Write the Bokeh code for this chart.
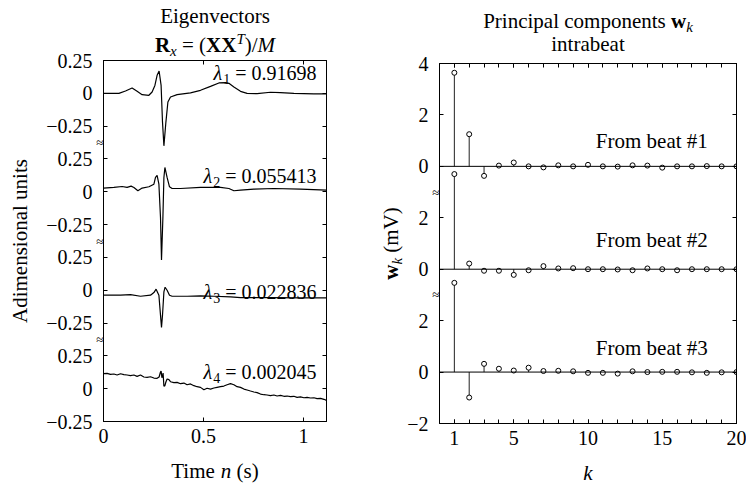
import math
import numpy as np
from bokeh.plotting import figure
from bokeh.models import FixedTicker, LinearAxis, Label, Span, Range1d
from bokeh.layouts import row, column
from bokeh.embed import file_html
from bokeh.resources import INLINE

FONT = "Liberation Serif"
NB = "\u00a0"

# ---------------- data: eigenvectors (time in s, adimensional amplitude) ----------------
t_eig1 = [0, 0.077, 0.11, 0.143, 0.168, 0.193, 0.227, 0.243, 0.257, 0.268, 0.278, 0.288, 0.295,
          0.302, 0.312, 0.322, 0.335, 0.368, 0.435, 0.485, 0.535, 0.577, 0.61, 0.627, 0.652,
          0.685, 0.718, 0.768, 0.835, 0.885, 0.952, 1.052, 1.115]
v_eig1 = [0, 0, 0.018, 0.04, 0.015, -0.01, -0.015, 0.01, 0.06, 0.137, 0.17, 0.06, -0.219,
          -0.40, -0.219, -0.066, -0.028, -0.01, 0.003, 0.023, 0.053, 0.079, 0.081, 0.076, 0.048,
          0.015, 0, -0.003, 0.008, 0.005, 0, -0.005, -0.005]
t_eig2 = [0, 0.052, 0.093, 0.118, 0.138, 0.152, 0.172, 0.193, 0.227, 0.252, 0.26, 0.268, 0.277,
          0.285, 0.29, 0.297, 0.302, 0.307, 0.318, 0.33, 0.343, 0.385, 0.485, 0.585, 0.627,
          0.652, 0.685, 0.752, 0.852, 0.985, 1.115]
v_eig2 = [0.028, 0.033, 0.04, 0.033, 0.043, 0.033, 0.008, 0.028, 0.038, 0.058, 0.11, 0.124, 0.058,
          -0.196, -0.52, -0.196, 0.109, 0.185, 0.109, 0.038, 0.025, 0.025, 0.033, 0.033, 0.025,
          0.008, 0.013, 0.02, 0.025, 0.02, 0.013]
t_eig3 = [0, 0.085, 0.135, 0.185, 0.235, 0.252, 0.263, 0.277, 0.285, 0.29, 0.295, 0.302, 0.308,
          0.318, 0.33, 0.343, 0.418, 0.485, 0.552, 0.635, 0.685, 0.818, 0.985, 1.115]
v_eig3 = [-0.038, -0.038, -0.033, -0.046, -0.038, -0.018, 0.008, -0.038, -0.19, -0.284, -0.19,
          -0.013, 0.023, 0, -0.038, -0.046, -0.046, -0.043, -0.046, -0.051, -0.056, -0.056,
          -0.058, -0.058]
t_eig4 = [0.0, 0.018, 0.035, 0.052, 0.068, 0.085, 0.102, 0.118, 0.135, 0.152,
          0.168, 0.185, 0.202, 0.218, 0.235, 0.252, 0.268, 0.278, 0.285, 0.288,
          0.292, 0.295, 0.298, 0.302, 0.307, 0.312, 0.318, 0.327, 0.335, 0.352,
          0.368, 0.385, 0.402, 0.418, 0.435, 0.452, 0.468, 0.485, 0.502, 0.518,
          0.535, 0.552, 0.568, 0.585, 0.602, 0.618, 0.635, 0.652, 0.668, 0.685,
          0.702, 0.718, 0.735, 0.752, 0.768, 0.785, 0.802, 0.818, 0.835, 0.852,
          0.868, 0.885, 0.902, 0.918, 0.935, 0.952, 0.968, 0.985, 1.002, 1.018,
          1.035, 1.052, 1.068, 1.085, 1.102, 1.115]
v_eig4 = [0.114, 0.117, 0.109, 0.112, 0.104, 0.114, 0.107, 0.104, 0.099, 0.104,
          0.094, 0.104, 0.089, 0.086, 0.091, 0.081, 0.079, 0.089, 0.127, 0.135,
          0.084, 0.094, 0.119, 0.018, 0.023, 0.051, 0.074, 0.069, 0.053, 0.046,
          0.048, 0.038, 0.043, 0.030, 0.036, 0.023, 0.015, 0.010, -0.008, 0.003,
          -0.003, 0.005, 0.010, 0.015, 0.020, 0.030, 0.038, 0.030, 0.015, 0.010,
          -0.003, -0.010, -0.018, -0.025, -0.030, -0.041, -0.046, -0.048, -0.053, -0.048,
          -0.056, -0.051, -0.058, -0.056, -0.061, -0.058, -0.066, -0.063, -0.069, -0.066,
          -0.071, -0.069, -0.076, -0.074, -0.081, -0.089]

eig_times = [t_eig1, t_eig2, t_eig3, t_eig4]
eig_values = [v_eig1, v_eig2, v_eig3, v_eig4]
eig_offsets = [0.0, -0.75, -1.5, -2.25]
lambda_values = ["0.91698", "0.055413", "0.022836", "0.002045"]
lambda_subs = ["1", "2", "3", "4"]
lambda_pos = [0.156, 0.122, -0.013, 0.13]
eig_tick_labels = ["0.25", "0", "\u22120.25"]
time_ticks = [0, 0.5, 1]
time_tick_labels = ["0", "0.5", "1"]

# ---------------- data: principal components ----------------
k_index = list(range(1, 21))
w_beat1 = [3.64, 1.25, -0.37, 0.03, 0.15, 0.0, -0.04, 0.04, 0.0, 0.06,
           0.0, -0.01, 0.04, 0.03, -0.05, 0.0, 0.0, 0.01, 0.0, 0.0]
w_beat2 = [3.70, 0.22, -0.06, -0.06, -0.22, -0.04, 0.12, 0.03, 0.04, 0.0,
           0.0, -0.01, -0.04, 0.03, 0.0, -0.04, 0.0, 0.0, 0.0, 0.0]
w_beat3 = [3.47, -0.99, 0.32, 0.13, 0.06, 0.17, 0.04, 0.05, 0.03, -0.03,
           -0.03, -0.06, 0.03, 0.0, 0.01, 0.01, -0.01, -0.03, -0.01, 0.0]
pc_series = [w_beat1, w_beat2, w_beat3]
pc_offsets = [0, -4, -8]
beat_labels = ["From beat #1", "From beat #2", "From beat #3"]
beat_label_pos = [1.0, 1.15, 0.95]
pc_y_ticks = [4, 2, 0, -2, -4, -6, -8, -10]
pc_y_tick_labels = ["4", "2", "0", "2", "0", "2", "0", "\u22122"]
k_ticks = [1, 5, 10, 15, 20]
k_tick_labels = ["1", "5", "10", "15", "20"]

# ---------------- text metrics (Times-compatible) ----------------
WID = {
    "normal": {" ": 250, NB: 250, "(": 333, ")": 333, "/": 278, "=": 564, ".": 250, "#": 500,
               "E": 611, "P": 556, "T": 611, "V": 722, "A": 722, "a": 444, "b": 500, "c": 444,
               "d": 500, "e": 444, "g": 500, "i": 278, "l": 278, "m": 778, "n": 500, "o": 500,
               "p": 500, "r": 333, "s": 389, "t": 278, "u": 500, "v": 500},
    "italic": {"k": 444, "n": 500, "x": 444, "M": 833, "T": 556, "\u03bb": 480},
    "bold": {"R": 722, "X": 722, "w": 722},
}


def text_width(s, style, size):
    return sum(WID[style].get(c, 500) for c in s) * size / 1000.0


def rich(p, x, y, pieces, align="center", xo=0.0, yo=0.0, angle=0.0):
    widths = [text_width(t, st, sz) for t, st, sz, dy in pieces]
    total = sum(widths)
    cur = {"left": 0.0, "center": -total / 2.0, "right": -total}[align]
    for (t, st, sz, dy), w in zip(pieces, widths):
        if angle == 0:
            xoff, yoff = xo + cur, yo + dy
        else:
            xoff, yoff = xo - dy, yo + cur
        p.add_layout(Label(x=x, y=y, text=t, text_font=FONT, text_font_size=f"{sz}px",
                           text_font_style=st, text_color="black", text_align="left",
                           text_baseline="middle", x_offset=xoff, y_offset=yoff,
                           angle=angle))
        cur += w


def style_axis(ax, ticks, labels, show=True, minor=None, standoff=8, size="20px", major_in=4):
    ax.ticker = FixedTicker(ticks=ticks, minor_ticks=minor or [])
    if show:
        ax.major_label_overrides = {float(t): l for t, l in zip(ticks, labels)}
        ax.major_label_text_color = "black"
        ax.major_label_text_font_size = size
    else:
        ax.major_label_text_color = None
        ax.major_label_text_font_size = "1px"
    ax.axis_line_color = "black"
    ax.axis_line_width = 1
    ax.major_tick_line_color = "black"
    ax.minor_tick_line_color = "black"
    ax.major_tick_in = major_in
    ax.major_tick_out = 0
    ax.minor_tick_in = 4
    ax.minor_tick_out = 0
    ax.major_label_text_font = FONT
    ax.major_label_standoff = standoff


def text_fig(w, h, yr=None):
    f = figure(width=w, height=h, x_range=Range1d(0, w), y_range=yr or Range1d(0, h), title=None,
               output_backend="svg", toolbar_location=None, min_border=0,
               x_axis_location=None, y_axis_location=None)
    f.outline_line_color = None
    f.grid.visible = False
    return f


# layout (pixels)
H = 489
YL_W = 93            # y-label column width
BL = 10              # left border of the plot figures (holds the break marks)
TH = 57              # title strip height
XH = 30              # x-label strip height

# ---------------- left: eigenvectors ----------------
L_TOP, L_FR, L_BOT = 3, 361, 38
L_W = 336 - YL_W
left = figure(width=L_W, height=L_TOP + L_FR + L_BOT, x_range=Range1d(0, 1.115),
              y_range=Range1d(-2.5, 0.25), output_backend="svg", toolbar_location=None, title=None,
              min_border_left=BL, min_border_right=10, min_border_top=L_TOP, min_border_bottom=L_BOT)
left.grid.visible = False
left.outline_line_color = "black"

eig_ticks, eig_labels = [], []
for o in eig_offsets:
    eig_ticks += [o + 0.25, o, o - 0.25]
    eig_labels += eig_tick_labels
brk_l = [(a + b) / 2.0 for a, b in zip(eig_offsets[:-1], eig_offsets[1:])]
style_axis(left.yaxis[0], brk_l, ["\u2248"] * len(brk_l), minor=eig_ticks, standoff=0,
           size="13px", major_in=0)
style_axis(left.xaxis[0], time_ticks, time_tick_labels, standoff=7)
ax_r = LinearAxis()
style_axis(ax_r, eig_ticks, eig_labels, show=False, standoff=0)
left.add_layout(ax_r, "right")
ax_t = LinearAxis()
style_axis(ax_t, time_ticks, time_tick_labels, show=False, standoff=0)
left.add_layout(ax_t, "above")

for t, v, o in zip(eig_times, eig_values, eig_offsets):
    left.line(t, np.array(v) + o, line_color="black", line_width=1.2)

for o, lv, ls, lp in zip(eig_offsets, lambda_values, lambda_subs, lambda_pos):
    rich(left, 1.115, o + lp, [("\u03bb", "italic", 20, 0), (ls, "normal", 14, -6),
                                (NB + "=" + NB + lv, "normal", 20, 0)], align="right", xo=-10)

cx_l = BL + 111.5
left_title = text_fig(L_W, TH)
rich(left_title, cx_l, TH - 15, [("Eigenvectors", "normal", 21, 0)])
rich(left_title, cx_l, TH - 44, [("R", "bold", 21, 0), ("x", "italic", 15, -6),
                                 (NB + "=" + NB + "(", "normal", 21, 0),
                                 ("XX", "bold", 21, 0), ("T", "italic", 15, 6),
                                 (")/", "normal", 21, 0), ("M", "italic", 21, 0)])
left_xlab = text_fig(L_W, XH)
rich(left_xlab, cx_l, XH - (470 - (H - XH)), [("Time" + NB, "normal", 21, 0), ("n", "italic", 21, 0),
                                             (NB + "(s)", "normal", 21, 0)])

# y-label column sharing the eigenvector scale
k_l = 2.75 / L_FR
fr_top_l = TH + L_TOP
left_ylab = text_fig(YL_W, H, Range1d(-2.5 - (H - fr_top_l - L_FR) * k_l, 0.25 + fr_top_l * k_l))
rich(left_ylab, 19, -1.125, [("Adimensional units", "normal", 21, 0)], angle=math.pi / 2)
for tv, tl in zip(eig_ticks, eig_labels):
    left_ylab.add_layout(Label(x=YL_W - 1, y=tv, text=tl, text_font=FONT, text_font_size="20px",
                               text_align="right", text_baseline="middle", text_color="black"))

# ---------------- right: principal components ----------------
R_TOP, R_FR, R_BOT = 6, 360, 36
R_W = 410 - YL_W
right = figure(width=R_W, height=R_TOP + R_FR + R_BOT, x_range=Range1d(0, 20), y_range=Range1d(-10, 4),
               output_backend="svg", toolbar_location=None, title=None,
               min_border_left=BL, min_border_right=10, min_border_top=R_TOP, min_border_bottom=R_BOT)
right.grid.visible = False
right.outline_line_color = "black"

brk_r = [(a + b) / 2.0 + 1 for a, b in zip(pc_offsets[:-1], pc_offsets[1:])]
style_axis(right.yaxis[0], brk_r, ["\u2248"] * len(brk_r), minor=pc_y_ticks, standoff=0,
           size="13px", major_in=0)
style_axis(right.xaxis[0], k_ticks, k_tick_labels, minor=k_index, standoff=7)
ax_r2 = LinearAxis()
style_axis(ax_r2, pc_y_ticks, pc_y_tick_labels, show=False, standoff=0)
right.add_layout(ax_r2, "right")
ax_t2 = LinearAxis()
style_axis(ax_t2, k_ticks, k_tick_labels, show=False, minor=k_index, standoff=0)
right.add_layout(ax_t2, "above")

for w, o, lab, lp in zip(pc_series, pc_offsets, beat_labels, beat_label_pos):
    right.add_layout(Span(location=o, dimension="width", line_color="black", line_width=1))
    y = np.array(w) + o
    right.segment(x0=k_index, y0=[o] * len(k_index), x1=k_index, y1=y,
                  line_color="#222222", line_width=1)
    right.scatter(k_index, y, size=5, marker="circle", fill_color="white",
                  line_color="black", line_width=1)
    right.add_layout(Label(x=14.3, y=o + lp, text=lab, text_font=FONT, text_font_size="21px",
                           text_align="center", text_baseline="middle", text_color="black"))

cx_r = BL + 148.5
right_title = text_fig(R_W, TH)
rich(right_title, cx_r, TH - 20, [("Principal" + NB + "components" + NB, "normal", 21, 0),
                                  ("w", "bold", 21, 0), ("k", "italic", 15, -6)])
rich(right_title, cx_r, TH - 43, [("intrabeat", "normal", 21, 0)])
right_xlab = text_fig(R_W, XH)
rich(right_xlab, cx_r, XH - (472 - (H - XH)), [("k", "italic", 21, 0)])

k_r = 14.0 / R_FR
fr_top_r = TH + R_TOP
right_ylab = text_fig(YL_W, H, Range1d(-10 - (H - fr_top_r - R_FR) * k_r, 4 + fr_top_r * k_r))
rich(right_ylab, 390 - 336, -3, [("w", "bold", 21, 0), ("k", "italic", 15, -6),
                                 (NB + "(mV)", "normal", 21, 0)], angle=math.pi / 2)
for tv, tl in zip(pc_y_ticks, pc_y_tick_labels):
    right_ylab.add_layout(Label(x=YL_W - 1, y=tv, text=tl, text_font=FONT, text_font_size="20px",
                                text_align="right", text_baseline="middle", text_color="black"))

left_col = row(left_ylab, column(left_title, left, left_xlab, spacing=0), spacing=0)
right_col = row(right_ylab, column(right_title, right, right_xlab, spacing=0), spacing=0)
layout = row(left_col, right_col, spacing=0)
open("out.html", "w").write(file_html(layout, INLINE, title="Eigenvectors and principal components"))
